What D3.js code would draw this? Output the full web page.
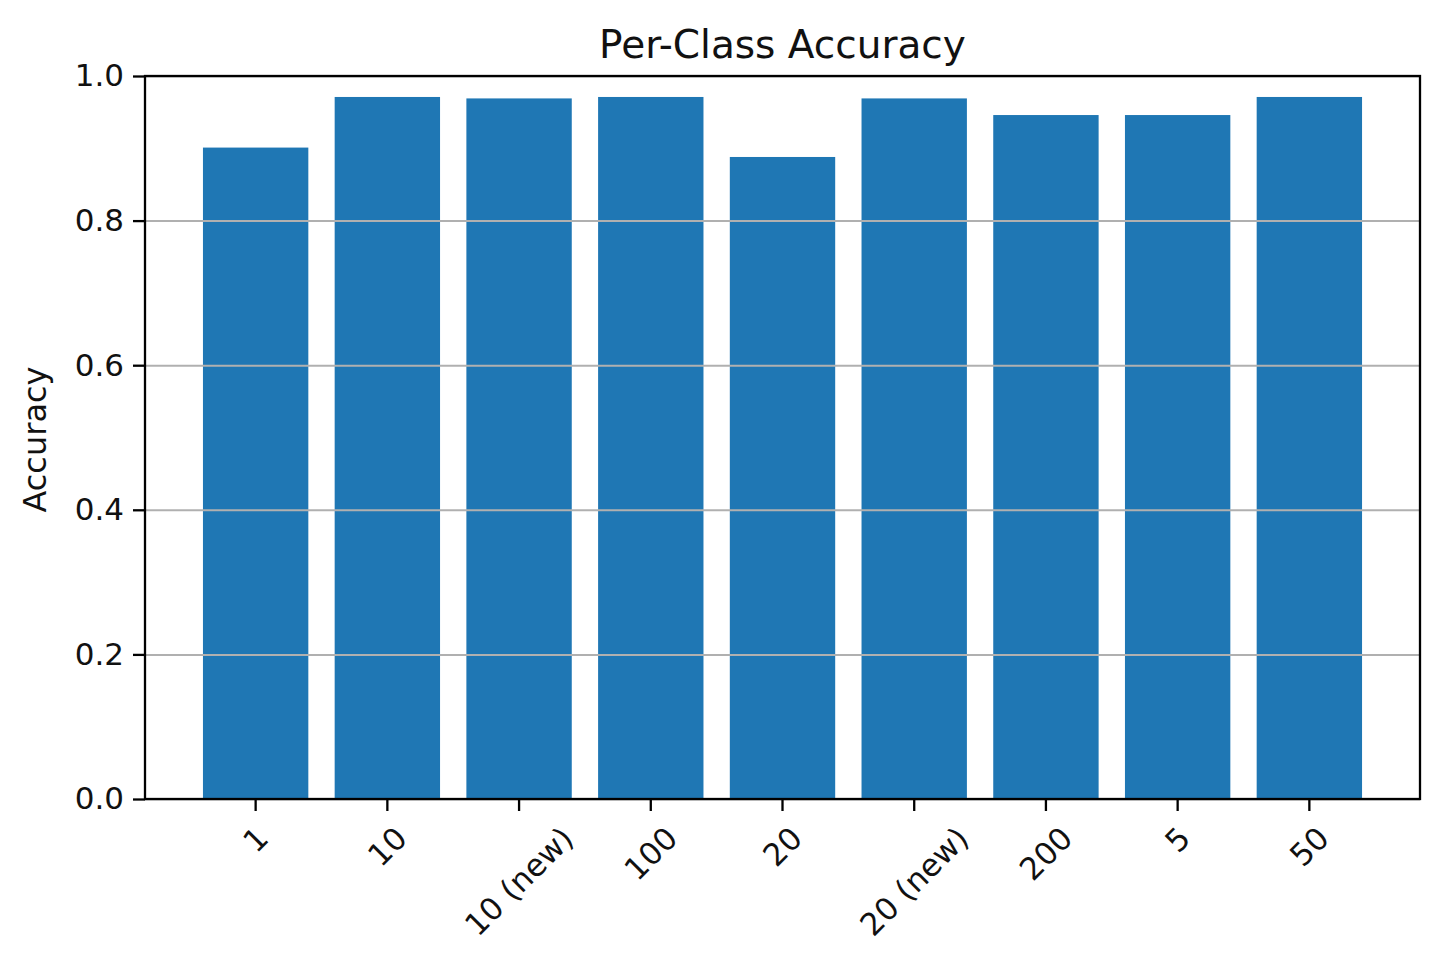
<!DOCTYPE html>
<html>
<head>
<meta charset="utf-8">
<script src="https://cdn.jsdelivr.net/npm/d3@7"></script>
<style>
  body { margin: 0; background: #fff; }
  text { font-family: "DejaVu Sans", sans-serif; fill: #111; }
</style>
</head>
<body>
<script>
// per-class accuracy
var classes = ["1", "10", "10 (new)", "100", "20", "20 (new)", "200", "5", "50"];
var accuracy = [0.901, 0.971, 0.969, 0.971, 0.888, 0.969, 0.946, 0.946, 0.971];
var yTicks = [0.0, 0.2, 0.4, 0.6, 0.8, 1.0];

var W = 1440, H = 970;
var margin = {top: 76, right: 20, bottom: 171, left: 145},
    width = W - margin.left - margin.right,
    height = H - margin.top - margin.bottom;

var svg = d3.select("body").append("svg")
    .attr("width", W)
    .attr("height", H);

var g = svg.append("g")
    .attr("transform", "translate(" + margin.left + "," + margin.top + ")");

var data = classes.map(function(c, i) { return {key: c, value: accuracy[i]}; });

// matplotlib style: bar width 0.8, 5% margins on each side
var x = d3.scaleBand().domain(classes).range([0, width])
    .paddingInner(0.2).paddingOuter(0.44);
var y = d3.scaleLinear().domain([0, 1]).range([height, 0]);

// bars
g.selectAll(".bar")
    .data(data)
    .enter().append("rect")
    .attr("class", "bar")
    .attr("x", function(d) { return x(d.key); })
    .attr("y", function(d) { return y(d.value); })
    .attr("width", x.bandwidth())
    .attr("height", function(d) { return height - y(d.value); })
    .style("fill", "#1f77b4");

// horizontal grid, drawn over the bars
g.append("g")
    .call(d3.axisLeft(y).tickValues(yTicks).tickSize(-width).tickFormat(""))
    .call(function(s) {
      s.select(".domain").remove();
      s.selectAll("line").style("stroke", "#b0b0b0").style("stroke-width", "2px");
    });

// frame
g.append("rect")
    .attr("width", width)
    .attr("height", height)
    .style("fill", "none")
    .style("stroke", "#000")
    .style("stroke-width", "2.3px");

var fs = 31;

// y axis
g.append("g")
    .call(d3.axisLeft(y).tickValues(yTicks).tickFormat(d3.format(".1f"))
      .tickSize(12).tickPadding(9).tickSizeOuter(0))
    .call(function(s) {
      s.select(".domain").remove();
      s.selectAll("line").style("stroke", "#000").style("stroke-width", "2.3px");
      s.selectAll("text").style("font-size", fs + "px").style("fill", "#111")
        .style("font-family", "DejaVu Sans");
    });

// x axis, labels rotated 45 and centred under the tick
var xAxis = g.append("g")
    .attr("transform", "translate(0," + height + ")")
    .call(d3.axisBottom(x).tickSize(12).tickSizeOuter(0).tickFormat(""));
xAxis.select(".domain").remove();
xAxis.selectAll("line").style("stroke", "#000").style("stroke-width", "2.3px");

xAxis.selectAll(".tick").append("text")
    .attr("class", "xlab")
    .style("font-size", fs + "px")
    .style("font-family", "DejaVu Sans")
    .style("fill", "#111")
    .attr("text-anchor", "middle")
    .attr("dy", "0.35em")
    .text(function(d) { return d; })
    .attr("transform", function() {
      var w = this.getComputedTextLength();
      var h = fs * 1.16;
      var half = (w + h) / (2 * Math.SQRT2);
      return "translate(0," + (12 + 9 + half) + ") rotate(-45)";
    });

// title
svg.append("text")
    .attr("x", margin.left + width / 2)
    .attr("y", 58)
    .attr("text-anchor", "middle")
    .style("font-size", "39px")
    .text("Per-Class Accuracy");

// y label
svg.append("text")
    .attr("transform", "translate(46," + (margin.top + height / 2 + 2) + ") rotate(-90)")
    .attr("text-anchor", "middle")
    .style("font-size", "32px")
    .text("Accuracy");
</script>
</body>
</html>
